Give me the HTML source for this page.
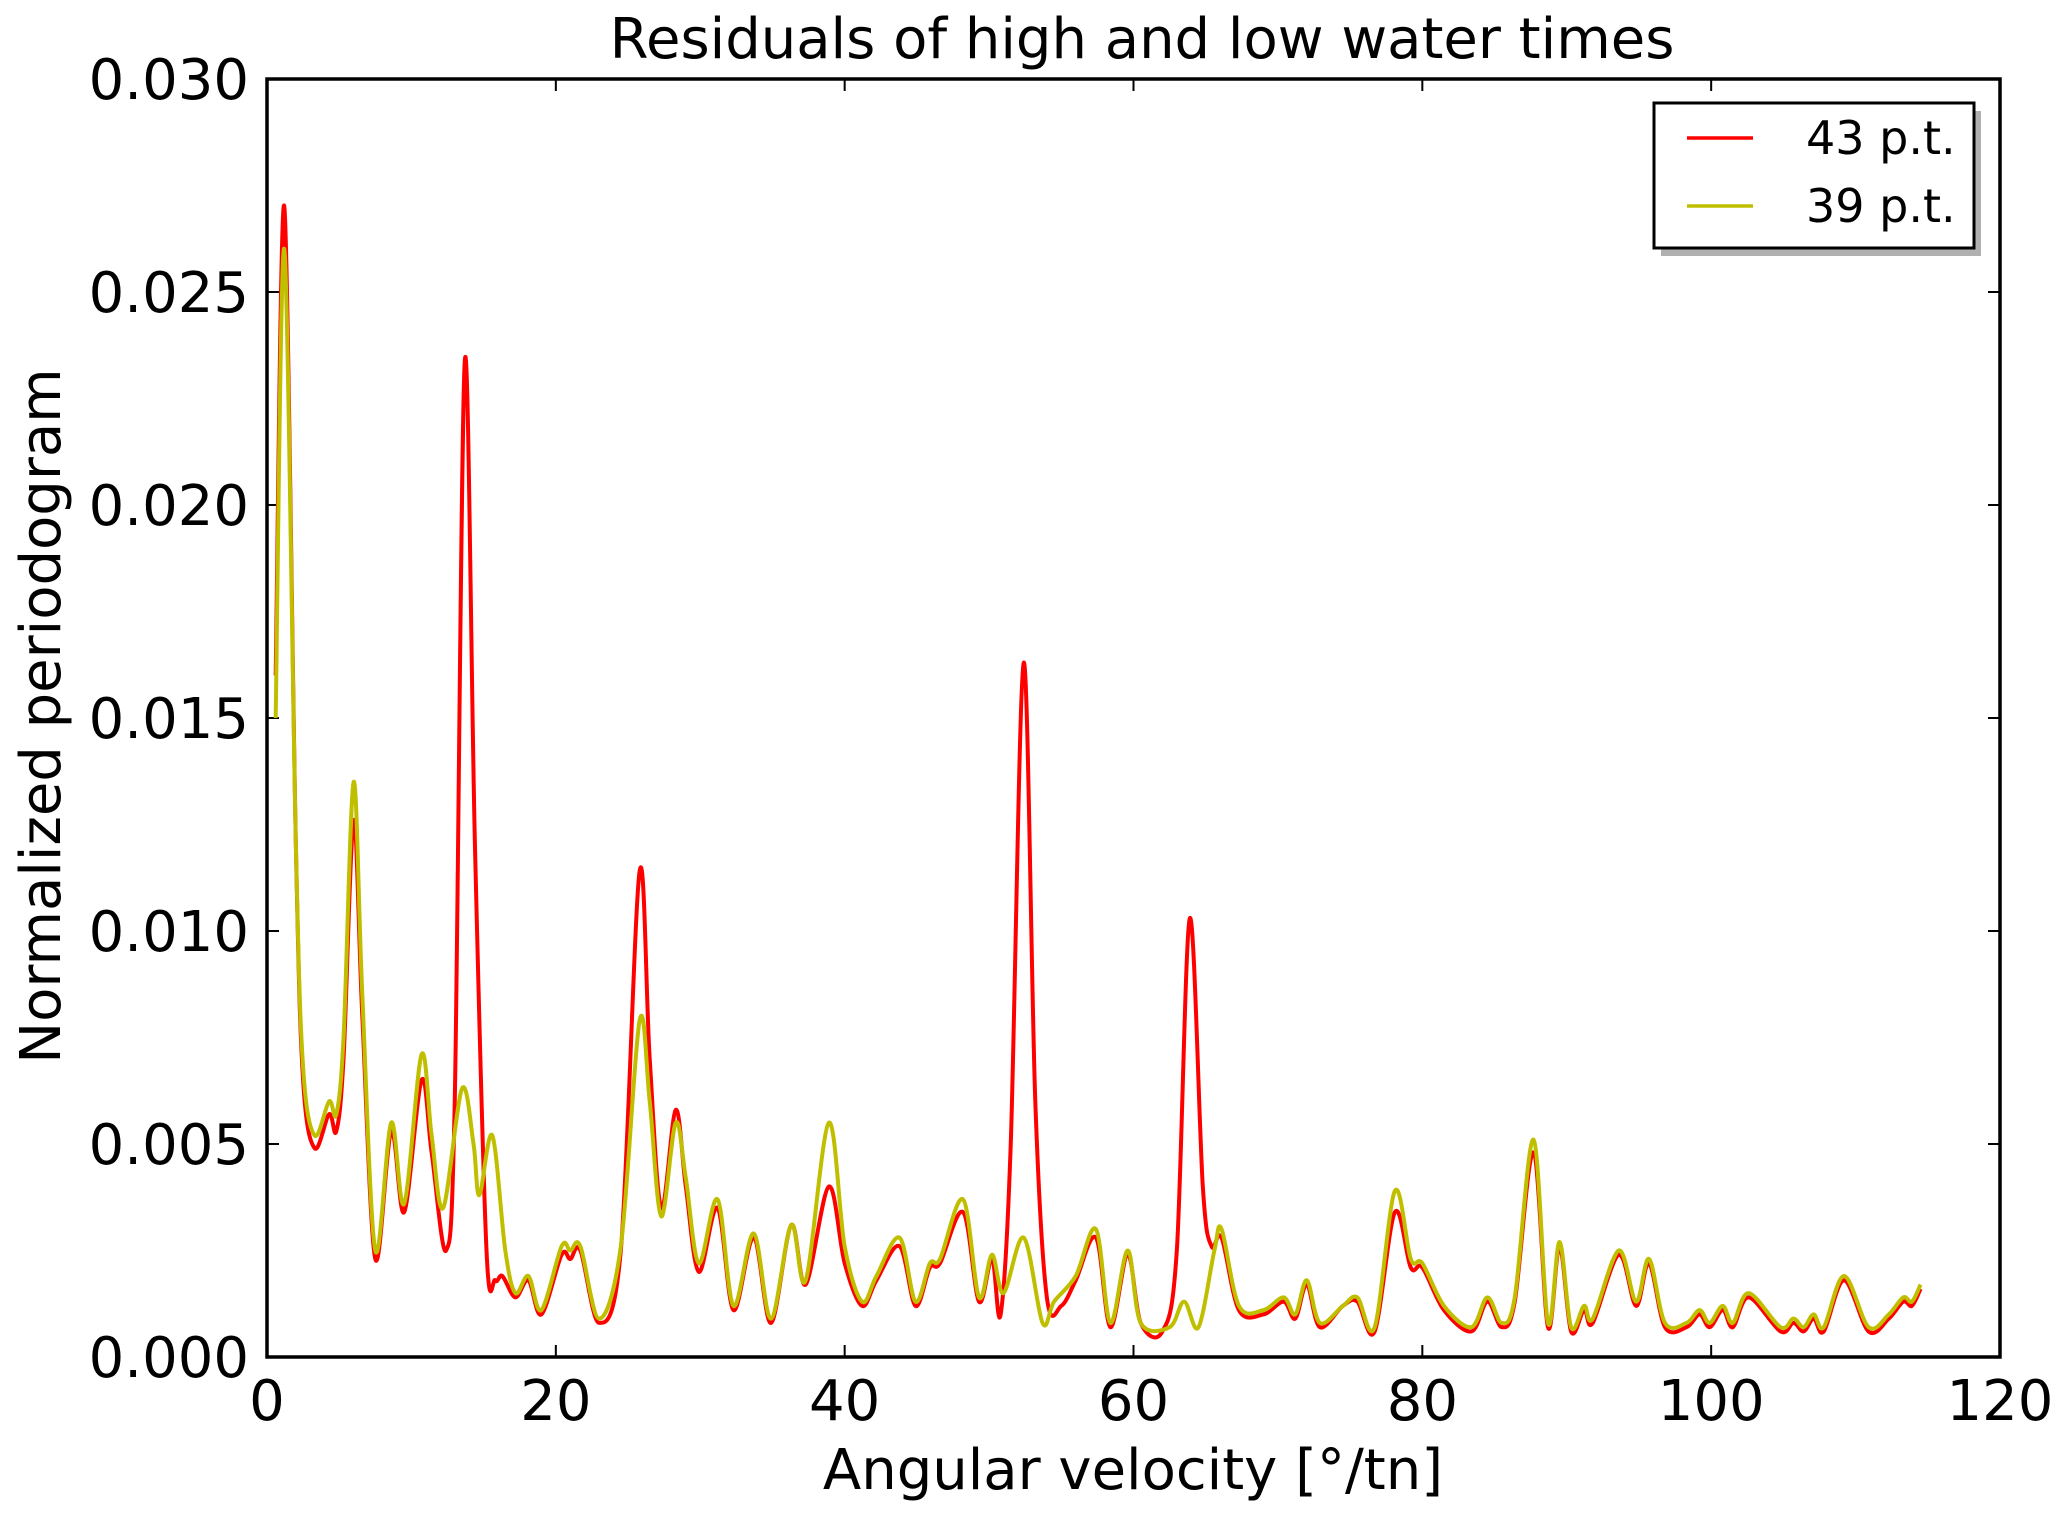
<!DOCTYPE html>
<html><head><meta charset="utf-8"><style>
html,body{margin:0;padding:0;background:#fff;}
svg text{font-family:"DejaVu Sans","Liberation Sans",sans-serif;fill:#000;}
</style></head><body>
<svg id="chart" width="2067" height="1518" xmlns="http://www.w3.org/2000/svg">
<rect width="2067" height="1518" fill="#fff"/>
<text x="1142" y="58" font-size="56" text-anchor="middle">Residuals of high and low water times</text>
<text x="1133" y="1489" font-size="56" text-anchor="middle">Angular velocity [°/tn]</text>
<text x="0" y="0" font-size="56" text-anchor="middle" transform="translate(60,716) rotate(-90)">Normalized periodogram</text>
<g id="ticks"></g>
<g id="series"></g>
<rect x="267" y="79" width="1733" height="1278" fill="none" stroke="#000" stroke-width="3.5"/>
<g>
<rect x="1661" y="111" width="320" height="145" fill="#b0b0b0"/>
<rect x="1654" y="103" width="320" height="145" fill="#fff" stroke="#000" stroke-width="3"/>
<line x1="1687" y1="138" x2="1753" y2="138" stroke="#ff0000" stroke-width="3.5"/>
<text x="1806" y="154" font-size="46">43 p.t.</text>
<line x1="1687" y1="206" x2="1753" y2="206" stroke="#bfbf00" stroke-width="3.5"/>
<text x="1806" y="222" font-size="46">39 p.t.</text>
</g>
</svg>
<script>
const xTicks=[0,20,40,60,80,100,120];
const yTicks=[0,0.005,0.010,0.015,0.020,0.025,0.030];
const yTickLabels=["0.000","0.005","0.010","0.015","0.020","0.025","0.030"];
const redX=[0.6,1.2,2.0,2.5,3.3,4.3,4.8,5.3,6.0,6.6,7.5,8.6,9.5,10.7,11.4,12.4,13.0,13.7,14.4,15.2,15.8,16.3,17.2,18.1,19.0,20.4,21.0,21.7,23.0,24.5,25.8,26.5,27.3,28.3,29.0,29.9,31.2,32.3,33.7,34.9,36.3,37.3,38.9,40.0,41.2,42.2,43.8,44.9,45.9,46.6,48.2,49.3,50.2,50.8,51.5,52.4,53.2,54.0,55.0,56.0,57.4,58.4,59.6,60.5,62.0,63.0,63.9,64.8,65.4,66.1,67.3,69.0,70.4,71.2,72.0,72.9,74.5,75.5,76.7,78.1,79.2,80.0,81.5,83.4,84.5,85.5,86.4,87.7,88.7,89.5,90.3,91.2,91.8,93.6,94.8,95.7,96.8,98.3,99.2,99.9,100.8,101.5,102.6,104.8,105.7,106.4,107.1,107.8,109.2,110.9,112.3,113.3,113.9,114.5];
const redY=[0.016,0.027,0.012,0.0065,0.0049,0.0057,0.0053,0.007,0.0126,0.008,0.0023,0.0053,0.0034,0.0065,0.0048,0.0025,0.006,0.0234,0.012,0.0025,0.0018,0.0019,0.0014,0.0018,0.001,0.0024,0.0023,0.0025,0.0008,0.0025,0.0114,0.007,0.0035,0.0058,0.004,0.002,0.0035,0.0011,0.0028,0.0008,0.0031,0.0017,0.004,0.0022,0.0012,0.0018,0.0026,0.0012,0.0021,0.0022,0.0034,0.0013,0.0023,0.001,0.005,0.0163,0.006,0.0014,0.0012,0.0018,0.0028,0.0007,0.0024,0.0008,0.0006,0.0025,0.0103,0.004,0.0026,0.0028,0.0011,0.001,0.0013,0.0009,0.0017,0.0007,0.0012,0.0013,0.0006,0.0034,0.0021,0.0021,0.0011,0.0006,0.0013,0.0007,0.0013,0.0048,0.0007,0.0026,0.0006,0.0011,0.0008,0.0024,0.0012,0.0022,0.0007,0.0007,0.001,0.0007,0.0011,0.0007,0.0014,0.0006,0.0008,0.0006,0.0009,0.0006,0.0018,0.0006,0.0009,0.0013,0.0012,0.0016];
const yelX=[0.6,1.2,2.0,2.5,3.3,4.3,4.8,5.3,6.0,6.6,7.5,8.6,9.5,10.7,11.4,12.2,13.5,14.3,14.7,15.6,16.5,17.2,18.1,19.0,20.4,21.0,21.7,23.0,24.5,25.8,26.5,27.3,28.3,29.0,29.9,31.2,32.3,33.7,34.9,36.3,37.3,38.9,40.0,41.2,42.2,43.8,44.9,45.9,46.6,48.2,49.3,50.2,51.0,52.4,53.7,54.5,56.0,57.4,58.4,59.6,60.5,62.5,63.5,64.5,65.6,66.1,67.3,69.0,70.4,71.2,72.0,72.9,74.5,75.5,76.7,78.1,79.2,80.0,81.5,83.4,84.5,85.5,86.4,87.7,88.7,89.5,90.3,91.2,91.8,93.6,94.8,95.7,96.8,98.3,99.2,99.9,100.8,101.5,102.6,104.8,105.7,106.4,107.1,107.8,109.2,110.9,112.3,113.3,113.9,114.5];
const yelY=[0.015,0.026,0.012,0.0068,0.0052,0.006,0.0057,0.0075,0.0135,0.0085,0.0025,0.0055,0.0036,0.0071,0.0052,0.0035,0.0063,0.005,0.0038,0.0052,0.0025,0.0015,0.0019,0.0011,0.0026,0.0025,0.0026,0.0009,0.0026,0.0079,0.006,0.0033,0.0055,0.0042,0.0022,0.0037,0.0012,0.0029,0.0009,0.0031,0.0018,0.0055,0.0026,0.0013,0.0019,0.0028,0.0013,0.0022,0.0023,0.0037,0.0014,0.0024,0.0015,0.0028,0.0008,0.0013,0.0019,0.003,0.0008,0.0025,0.0008,0.0007,0.0013,0.0007,0.0025,0.003,0.0012,0.0011,0.0014,0.001,0.0018,0.0008,0.0012,0.0014,0.0007,0.0039,0.0023,0.0022,0.0012,0.0007,0.0014,0.0008,0.0014,0.0051,0.0008,0.0027,0.0007,0.0012,0.0009,0.0025,0.0013,0.0023,0.0008,0.0008,0.0011,0.0008,0.0012,0.0008,0.0015,0.0007,0.0009,0.0007,0.001,0.0007,0.0019,0.0007,0.001,0.0014,0.0013,0.0017];
const L=267,R=2000,T=79,B=1357;
function sx(v){return L+(v-0)/(120-0)*(R-L);}
function sy(v){return B-(v-0)/(0.03-0)*(B-T);}
const NS="http://www.w3.org/2000/svg";
const tg=document.getElementById('ticks');
xTicks.forEach(function(v){
  const x=sx(v);
  const t=document.createElementNS(NS,'path');
  t.setAttribute('d','M'+x+' '+B+'v-12M'+x+' '+T+'v12');
  t.setAttribute('stroke','#000');t.setAttribute('stroke-width','2');
  
  
  tg.appendChild(t);
  const lb=document.createElementNS(NS,'text');
  lb.setAttribute('x',x);lb.setAttribute('y',1420);lb.setAttribute('font-size','56');lb.setAttribute('text-anchor','middle');
  lb.textContent=String(v);
  
  
  tg.appendChild(lb);
});
yTicks.forEach(function(v,i){
  const y=sy(v);
  const t=document.createElementNS(NS,'path');
  t.setAttribute('d','M'+L+' '+y+'h12M'+R+' '+y+'h-12');
  t.setAttribute('stroke','#000');t.setAttribute('stroke-width','2');
  
  
  tg.appendChild(t);
  const lb=document.createElementNS(NS,'text');
  lb.setAttribute('x',249);lb.setAttribute('y',y+20);lb.setAttribute('font-size','56');lb.setAttribute('text-anchor','end');
  lb.textContent=yTickLabels[i];
  
  
  tg.appendChild(lb);
});
function smooth(xs,ys){
  const p=xs.map(function(x,i){return [sx(x),sy(ys[i])];});
  let d='M'+p[0][0]+' '+p[0][1];
  for(let i=0;i<p.length-1;i++){
    const p0=p[Math.max(0,i-1)],p1=p[i],p2=p[i+1],p3=p[Math.min(p.length-1,i+2)];
    const c1x=p1[0]+(p2[0]-p0[0])/6,c1y=p1[1]+(p2[1]-p0[1])/6;
    const c2x=p2[0]-(p3[0]-p1[0])/6,c2y=p2[1]-(p3[1]-p1[1])/6;
    d+='C'+c1x+' '+Math.min(c1y,B)+' '+c2x+' '+Math.min(c2y,B)+' '+p2[0]+' '+p2[1];
  }
  return d;
}
const sg=document.getElementById('series');
const r=document.createElementNS(NS,'path');
r.setAttribute('d',smooth(redX,redY));r.setAttribute('fill','none');r.setAttribute('stroke','#ff0000');r.setAttribute('stroke-width','4');r.setAttribute('stroke-linejoin','round');


sg.appendChild(r);
const yl=document.createElementNS(NS,'path');
yl.setAttribute('d',smooth(yelX,yelY));yl.setAttribute('fill','none');yl.setAttribute('stroke','#bfbf00');yl.setAttribute('stroke-width','4');yl.setAttribute('stroke-linejoin','round');


sg.appendChild(yl);
</script>
</body></html>
